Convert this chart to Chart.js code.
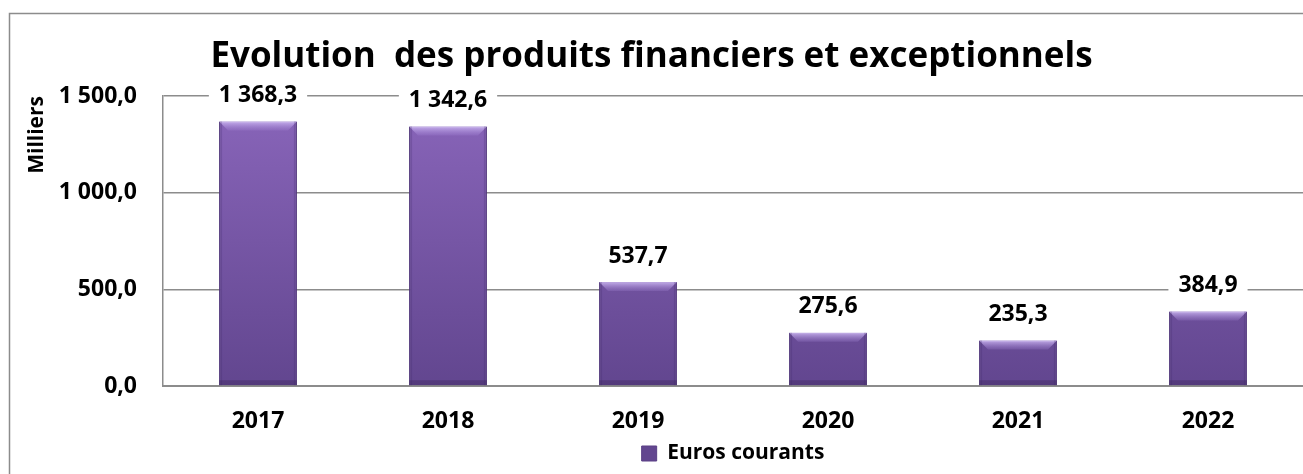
<!DOCTYPE html>
<html>
<head>
<meta charset="utf-8">
<script src="https://cdn.jsdelivr.net/npm/chart.js@4.4.0/dist/chart.umd.min.js"></script>
<style>
  html, body { margin: 0; padding: 0; background: #fff; }
  #wrap { width: 1303px; height: 474px; }
</style>
</head>
<body>
<div id="wrap"><canvas id="produitsChart" width="1303" height="474"></canvas></div>
<script>
// data
var years = ['2017', '2018', '2019', '2020', '2021', '2022'];
var eurosCourants = [1368.3, 1342.6, 537.7, 275.6, 235.3, 384.9];
var yTicks = [0, 500, 1000, 1500];

var FONT = '"Open Sans", "Noto Sans", sans-serif';

function frNumber(v) {
    // 1368.3 -> "1 368,3"
    var parts = v.toFixed(1).split('.');
    var intPart = parts[0].replace(/\B(?=(\d{3})+(?!\d))/g, ' ');
    return intPart + ',' + parts[1];
}

// outer frame, like the excel chart border (cropped on right/bottom)
var framePlugin = {
    id: 'frame',
    beforeDraw: function (chart) {
        var c = chart.ctx;
        c.save();
        c.strokeStyle = '#8c8c8c';
        c.lineWidth = 1.5;
        c.beginPath();
        c.moveTo(9.5, chart.height + 5);
        c.lineTo(9.5, 13.5);
        c.lineTo(chart.width + 5, 13.5);
        c.stroke();
        c.restore();
    }
};

// light bevel on top of each bar
var bevelPlugin = {
    id: 'bevel',
    afterDatasetsDraw: function (chart) {
        var c = chart.ctx;
        var meta = chart.getDatasetMeta(0);
        c.save();
        meta.data.forEach(function (bar) {
            var left = bar.x - bar.width / 2;
            var right = bar.x + bar.width / 2;
            var top = bar.y;
            var b = 9;
            var g = c.createLinearGradient(0, top, 0, top + b);
            g.addColorStop(0, 'rgba(215, 195, 250, 0.8)');
            g.addColorStop(1, 'rgba(170, 140, 220, 0.2)');
            c.fillStyle = g;
            c.beginPath();
            c.moveTo(left, top);
            c.lineTo(right, top);
            c.lineTo(right - b, top + b);
            c.lineTo(left + b, top + b);
            c.closePath();
            c.fill();
            c.fillStyle = 'rgba(60, 35, 100, 0.22)';
            c.fillRect(left, top, 3, bar.base - top);
            c.fillRect(right - 3, top, 3, bar.base - top);
            c.fillStyle = 'rgba(50, 30, 80, 0.3)';
            c.fillRect(left, bar.base - 5, bar.width, 5);
        });
        c.restore();
    }
};

// value labels above bars, on a white patch that hides the grid
var valueLabelPlugin = {
    id: 'valueLabels',
    afterDatasetsDraw: function (chart) {
        var c = chart.ctx;
        var meta = chart.getDatasetMeta(0);
        c.save();
        c.font = 'bold 23px ' + FONT;
        c.textAlign = 'center';
        c.textBaseline = 'middle';
        meta.data.forEach(function (bar, i) {
            var txt = frNumber(eurosCourants[i]);
            var w = c.measureText(txt).width;
            var y = bar.y - 26;
            c.fillStyle = '#fff';
            c.fillRect(bar.x - w / 2 - 10, y - 13, w + 20, 26);
            c.fillStyle = '#000';
            c.fillText(txt, bar.x, y);
        });
        c.restore();
    }
};

var ctx = document.getElementById('produitsChart').getContext('2d');

var barFill = function (context) {
    var area = context.chart.chartArea;
    if (!area) return '#7a58a8';
    var g = context.chart.ctx.createLinearGradient(0, area.top, 0, area.bottom);
    g.addColorStop(0, '#8a66bb');
    g.addColorStop(1, '#62468f');
    return g;
};

var produitsChart = new Chart(ctx, {
    type: 'bar',
    data: {
        labels: years,
        datasets: [{
            label: 'Euros courants',
            data: eurosCourants,
            backgroundColor: barFill,
            borderColor: '#5a3f85',
            borderWidth: 1,
            categoryPercentage: 1,
            barPercentage: 0.41
        }]
    },
    options: {
        responsive: false,
        animation: false,
        layout: { padding: { left: 0, right: 0, top: 0, bottom: 0 } },
        scales: {
            x: {
                grid: { display: false, drawTicks: false },
                border: { color: '#8c8c8c', width: 2 },
                ticks: {
                    padding: 22,
                    color: '#000',
                    font: { family: FONT, size: 23, weight: 'bold' }
                },
                afterFit: function (scale) { scale.height = 47; }
            },
            y: {
                min: 0,
                max: 1500,
                afterBuildTicks: function (scale) {
                    scale.ticks = yTicks.map(function (v) { return { value: v }; });
                },
                grid: { color: '#8c8c8c', lineWidth: 1.5, drawTicks: false },
                border: { color: '#8c8c8c', width: 1.5 },
                ticks: {
                    padding: 26,
                    color: '#000',
                    font: { family: FONT, size: 23, weight: 'bold' },
                    callback: function (v) { return frNumber(v); }
                },
                title: {
                    display: true,
                    text: 'Milliers',
                    align: 'end',
                    color: '#000',
                    padding: { top: 24, bottom: 0 },
                    font: { family: FONT, size: 21, weight: 'bold' }
                },
                afterFit: function (scale) { scale.width = 163; }
            }
        },
        plugins: {
            title: {
                display: true,
                text: 'Evolution  des produits financiers et exceptionnels',
                color: '#000',
                font: { family: FONT, size: 35, weight: 'bold' },
                padding: { top: 36, bottom: 18 }
            },
            legend: {
                position: 'bottom',
                fullSize: false,
                labels: {
                    color: '#000',
                    boxWidth: 15,
                    boxHeight: 15,
                    padding: 10,
                    font: { family: FONT, size: 21, weight: 'bold' }
                }
            },
            tooltip: { enabled: false }
        }
    },
    plugins: [framePlugin, bevelPlugin, valueLabelPlugin]
});
</script>
</body>
</html>
